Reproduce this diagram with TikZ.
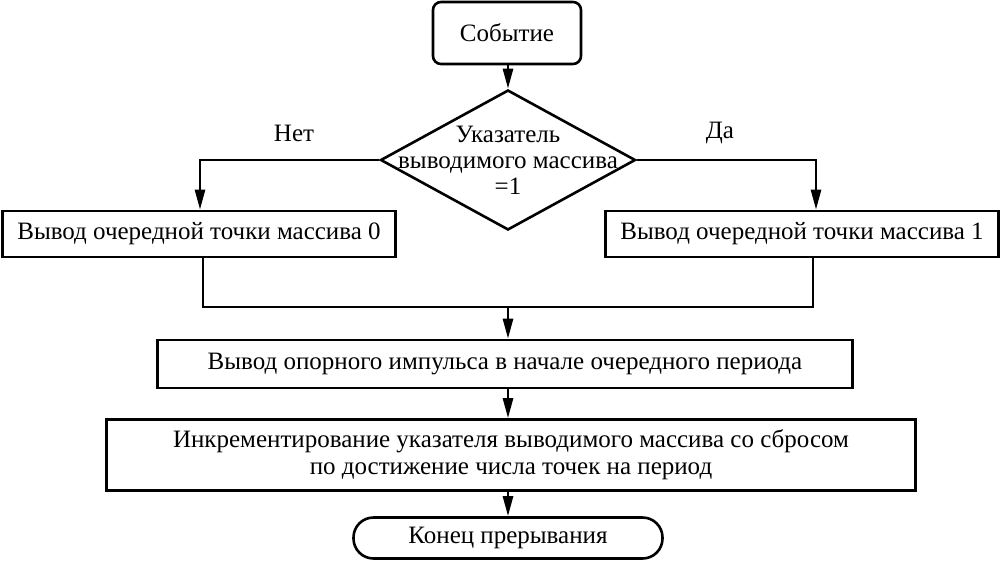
\documentclass[tikz,border=0pt]{standalone}
\usepackage{fontspec}
\setmainfont{Liberation Serif}
\usetikzlibrary{shapes.geometric,arrows.meta}
\begin{document}
\begin{tikzpicture}[x=1pt,y=-1pt,
  every node/.style={font=\fontsize{25}{27}\selectfont},
  line/.style={line width=2.6pt},
  arr/.style={line width=2.6pt,-{Triangle[length=20pt,width=10pt]}},
  proc/.style={draw,line width=2.6pt,rectangle,inner sep=0pt,align=center},
]
\useasboundingbox (0,0) rectangle (1000,562);
\node[proc,rounded corners=8pt,minimum width=148pt,minimum height=62pt] (ev) at (507,33) {Событие};
\node[draw,line width=2.6pt,diamond,minimum width=255pt,minimum height=140pt,inner sep=0pt] (dia) at (508,160) {};
\node[align=center,inner sep=0pt] (diat) at (508,160) {Указатель\\[-1pt]выводимого массива\\[-1pt]=1};
\node[proc,minimum width=393pt,minimum height=46pt] (b0) at (199,234) {Вывод очередной точки массива 0};
\node[proc,minimum width=393pt,minimum height=46pt] (b1) at (802,234) {Вывод очередной точки массива 1};
\node[proc,minimum width=695pt,minimum height=48pt] (imp) at (505,364) {Вывод опорного импульса в начале очередного периода};
\node[proc,minimum width=809pt,minimum height=71pt,align=center] (inc) at (511,455) {Инкрементирование указателя выводимого массива со сбросом\\[0pt]по достижение числа точек на период};
\node[proc,rounded corners=20pt,minimum width=309pt,minimum height=41pt] (end) at (508,538) {Конец прерывания};
\node (no) at (294,133) {Нет};
\node (yes) at (720,133) {Да};
\coordinate (j) at (508,307);
\draw[arr] (ev.south -| dia.north) -- (dia.north);
\draw[arr] (dia.west) -| (b0.north -| 200,0);
\draw[arr] (dia.east) -| (b1.north -| 816,0);
\draw[line] (b0.south -| 203,0) |- (j);
\draw[line] (b1.south -| 813,0) |- (j);
\draw[arr] (j) -- (imp.north -| j);
\draw[arr] (imp.south -| j) -- (inc.north -| j);
\draw[arr] (inc.south -| j) -- (end.north);
\end{tikzpicture}
\end{document}
